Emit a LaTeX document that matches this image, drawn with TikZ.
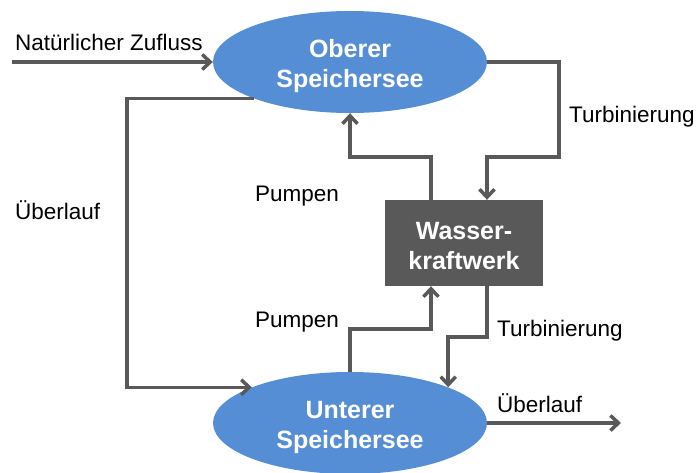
\documentclass[tikz,border=0pt]{standalone}
\usepackage{fontspec}
\setmainfont{Liberation Sans}
\usetikzlibrary{arrows.meta,shapes.geometric,calc}
\definecolor{lake}{RGB}{85,142,213}
\definecolor{linegray}{RGB}{89,89,89}
\begin{document}
\begin{tikzpicture}[x=1pt,y=-1pt,
  lakenode/.style={ellipse,fill=lake,draw=none,minimum width=274pt,minimum height=102pt,inner sep=0pt},
  plantnode/.style={rectangle,fill=linegray,draw=none,minimum width=158pt,minimum height=86pt,inner sep=0pt},
  intext/.style={inner sep=0pt,text=white,align=center,yshift=-4pt,font=\fontsize{25}{30}\selectfont\bfseries},
  flow/.style={draw=linegray,line width=3.5pt,-{Straight Barb[length=8pt,width=15pt]}},
  lbl/.style={anchor=base west,inner sep=0pt,font=\fontsize{22.5}{27}\selectfont,text=black}]
\useasboundingbox (0,0) rectangle (697,472);

\node[lakenode,label={[intext]center:{Oberer\\Speichersee}}] (ob) at (350,62) {};
\node[lakenode,label={[intext]center:{Unterer\\Speichersee}}] (ub) at (350,423) {};
\node[plantnode,label={[intext,yshift=1pt]center:{Wasser-\\kraftwerk}}] (kw) at (464,243) {};

\coordinate (nz) at (12,62);
\coordinate (ovl) at (127,300);
\coordinate (t1) at (559,157);
\coordinate (p1) at (400,157);
\coordinate (p2) at (400,329);
\coordinate (t2) at (460,337);
\coordinate (ovr) at (621,423);

\draw[flow] (nz) -- (ob.west);
\draw[flow] (ob.201) -| (ovl) |- (ub.160);
\draw[flow] (ob.east) -| (t1) -| ([xshift=23pt]kw.north);
\draw[flow] ([xshift=-33pt]kw.north) |- (p1) -| (ob.south);
\draw[flow] (ub.north) |- (p2) -| ([xshift=-33pt]kw.south);
\draw[flow] ([xshift=23pt]kw.south) |- (t2) -| (ub.20.6);
\draw[flow] (ub.east) -- (ovr);

\node[lbl] (lnz) at (15,50) {Natürlicher Zufluss};
\node[lbl] (lt1) at (569,122) {Turbinierung};
\node[lbl] (lp1) at (255,201) {Pumpen};
\node[lbl] (lovl) at (15,219) {Überlauf};
\node[lbl] (lp2) at (255,327) {Pumpen};
\node[lbl] (lt2) at (497,336) {Turbinierung};
\node[lbl] (lovr) at (497,412) {Überlauf};
\end{tikzpicture}
\end{document}
